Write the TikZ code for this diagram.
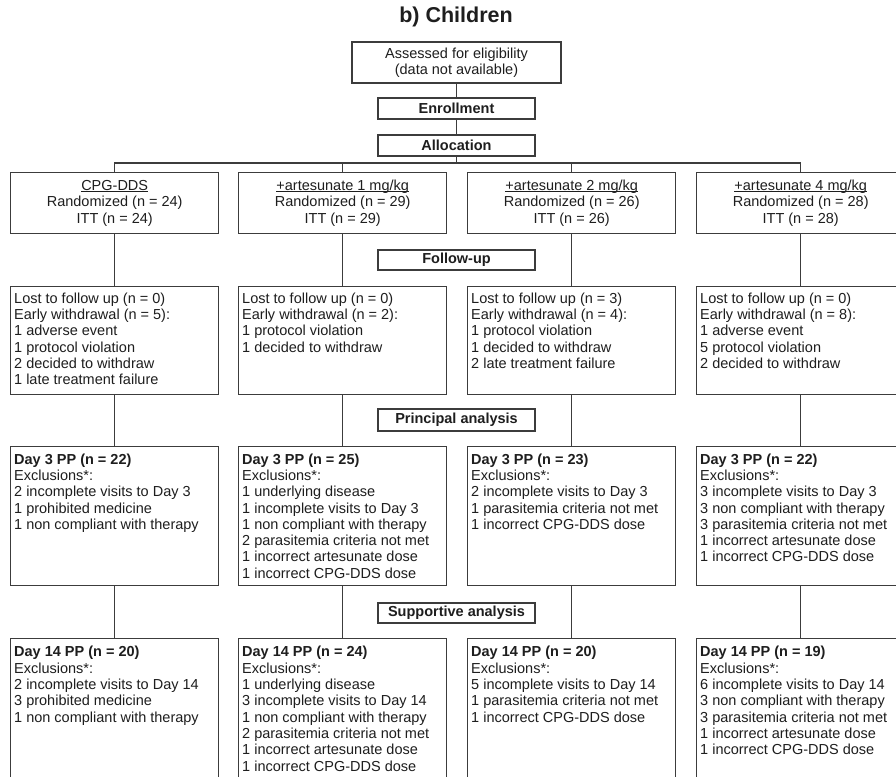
\documentclass[tikz,border=0pt]{standalone}
\usepackage{fontspec}
\setmainfont{Liberation Sans}
\usetikzlibrary{calc}
\definecolor{ln}{HTML}{3C3C3C}
\definecolor{tx}{HTML}{1E1E1E}
\newcommand\ulx[1]{\setbox0\hbox{#1}\rlap{\rule[-1.7pt]{\wd0}{0.9pt}}\box0}
\begin{document}
\begin{tikzpicture}[x=1pt,y=-1pt,
  box/.style={draw=ln, line width=1.4pt, inner sep=0pt, fill=white},
  fnt/.style={font=\fontsize{14.5}{16.3}\selectfont, text=tx},
  ctxt/.style={fnt, align=center, inner sep=0pt},
  ltxt/.style={fnt, align=left, inner sep=0pt, anchor=north west},
  hdr/.style={box, minimum width=157, minimum height=21, fnt, font=\fontsize{14.5}{16.3}\selectfont\bfseries},
  arm/.style={box, anchor=north west, minimum width=208},
  con/.style={draw=ln, line width=1.4pt}]
\useasboundingbox (0,0) rectangle (896,776);
\clip (0,0) rectangle (896,776);
\fill[white] (0,0) rectangle (896,776);

\node[font=\fontsize{21.5}{25}\selectfont\bfseries, text=tx] (title) at (456,17) {b) Children};

\node[box, minimum width=209, minimum height=41] (elig) at (456.5,62.5) {};
\node[ctxt] (eligt) at (elig.center) {Assessed for eligibility\\(data not available)};
\node[hdr] (enrol) at (456.5,108.5) {Enrollment};
\node[hdr] (alloc) at (456.5,145.5) {Allocation};
\coordinate (hl) at (456.5,163);

% arms
\node[arm, minimum height=61] (t1) at (10,172) {};
\node[arm, minimum height=61] (t2) at (238,172) {};
\node[arm, minimum height=61] (t3) at (467,172) {};
\node[arm, minimum height=61] (t4) at (696,172) {};
\node[ctxt] (t1t) at (t1.center) {\ulx{CPG-DDS}\\Randomized (n = 24)\\ITT (n = 24)};
\node[ctxt] (t2t) at (t2.center) {\ulx{+artesunate 1 mg/kg}\\Randomized (n = 29)\\ITT (n = 29)};
\node[ctxt] (t3t) at (t3.center) {\ulx{+artesunate 2 mg/kg}\\Randomized (n = 26)\\ITT (n = 26)};
\node[ctxt] (t4t) at (t4.center) {\ulx{+artesunate 4 mg/kg}\\Randomized (n = 28)\\ITT (n = 28)};

\node[hdr, minimum height=20] (fu) at (456.5,260) {Follow-up};

% follow-up
\node[arm, minimum height=108] (l1) at (10,286) {};
\node[arm, minimum height=108] (l2) at (238,286) {};
\node[arm, minimum height=108] (l3) at (467,286) {};
\node[arm, minimum height=108] (l4) at (696,286) {};
\node[ltxt] (l1t) at ($(l1.north west)+(4,6.6)$) {Lost to follow up (n = 0)\\Early withdrawal (n = 5):\\1 adverse event\\1 protocol violation\\2 decided to withdraw\\1 late treatment failure};
\node[ltxt] (l2t) at ($(l2.north west)+(4,6.6)$) {Lost to follow up (n = 0)\\Early withdrawal (n = 2):\\1 protocol violation\\1 decided to withdraw};
\node[ltxt] (l3t) at ($(l3.north west)+(4,6.6)$) {Lost to follow up (n = 3)\\Early withdrawal (n = 4):\\1 protocol violation\\1 decided to withdraw\\2 late treatment failure};
\node[ltxt] (l4t) at ($(l4.north west)+(4,6.6)$) {Lost to follow up (n = 0)\\Early withdrawal (n = 8):\\1 adverse event\\5 protocol violation\\2 decided to withdraw};

\node[hdr, minimum height=22] (pa) at (456.5,420) {Principal analysis};

% day 3
\node[arm, minimum height=139] (d1) at (10,446) {};
\node[arm, minimum height=139] (d2) at (238,446) {};
\node[arm, minimum height=139] (d3) at (467,446) {};
\node[arm, minimum height=139] (d4) at (696,446) {};
\node[ltxt] (d1t) at ($(d1.north west)+(4,7.4)$) {\textbf{Day 3 PP (n = 22)}\\Exclusions*:\\2 incomplete visits to Day 3\\1 prohibited medicine\\1 non compliant with therapy};
\node[ltxt] (d2t) at ($(d2.north west)+(4,7.4)$) {\textbf{Day 3 PP (n = 25)}\\Exclusions*:\\1 underlying disease\\1 incomplete visits to Day 3\\1 non compliant with therapy\\2 parasitemia criteria not met\\1 incorrect artesunate dose\\1 incorrect CPG-DDS dose};
\node[ltxt] (d3t) at ($(d3.north west)+(4,7.4)$) {\textbf{Day 3 PP (n = 23)}\\Exclusions*:\\2 incomplete visits to Day 3\\1 parasitemia criteria not met\\1 incorrect CPG-DDS dose};
\node[ltxt] (d4t) at ($(d4.north west)+(4,7.4)$) {\textbf{Day 3 PP (n = 22)}\\Exclusions*:\\3 incomplete visits to Day 3\\3 non compliant with therapy\\3 parasitemia criteria not met\\1 incorrect artesunate dose\\1 incorrect CPG-DDS dose};

\node[hdr, minimum height=20] (sa) at (456.5,613) {Supportive analysis};

% day 14
\node[arm, minimum height=152] (e1) at (10,638) {};
\node[arm, minimum height=152] (e2) at (238,638) {};
\node[arm, minimum height=152] (e3) at (467,638) {};
\node[arm, minimum height=152] (e4) at (696,638) {};
\node[ltxt] (e1t) at ($(e1.north west)+(4,8.2)$) {\textbf{Day 14 PP (n = 20)}\\Exclusions*:\\2 incomplete visits to Day 14\\3 prohibited medicine\\1 non compliant with therapy};
\node[ltxt] (e2t) at ($(e2.north west)+(4,8.2)$) {\textbf{Day 14 PP (n = 24)}\\Exclusions*:\\1 underlying disease\\3 incomplete visits to Day 14\\1 non compliant with therapy\\2 parasitemia criteria not met\\1 incorrect artesunate dose\\1 incorrect CPG-DDS dose};
\node[ltxt] (e3t) at ($(e3.north west)+(4,8.2)$) {\textbf{Day 14 PP (n = 20)}\\Exclusions*:\\5 incomplete visits to Day 14\\1 parasitemia criteria not met\\1 incorrect CPG-DDS dose};
\node[ltxt] (e4t) at ($(e4.north west)+(4,8.2)$) {\textbf{Day 14 PP (n = 19)}\\Exclusions*:\\6 incomplete visits to Day 14\\3 non compliant with therapy\\3 parasitemia criteria not met\\1 incorrect artesunate dose\\1 incorrect CPG-DDS dose};

% connectors
\draw[con] (elig.south) -- (enrol.north);
\draw[con] (enrol.south) -- (alloc.north);
\draw[con] (alloc.south) -- (hl);
\draw[con] (t1.north) -- (t1.north |- hl) -- (t4.north |- hl) -- (t4.north);
\draw[con] (t2.north |- hl) -- (t2.north);
\draw[con] (t3.north |- hl) -- (t3.north);
\foreach \i in {1,2,3,4}{
  \draw[con] (t\i.south) -- (l\i.north);
  \draw[con] (l\i.south) -- (d\i.north);
  \draw[con] (d\i.south) -- (e\i.north);
}
\end{tikzpicture}
\end{document}
